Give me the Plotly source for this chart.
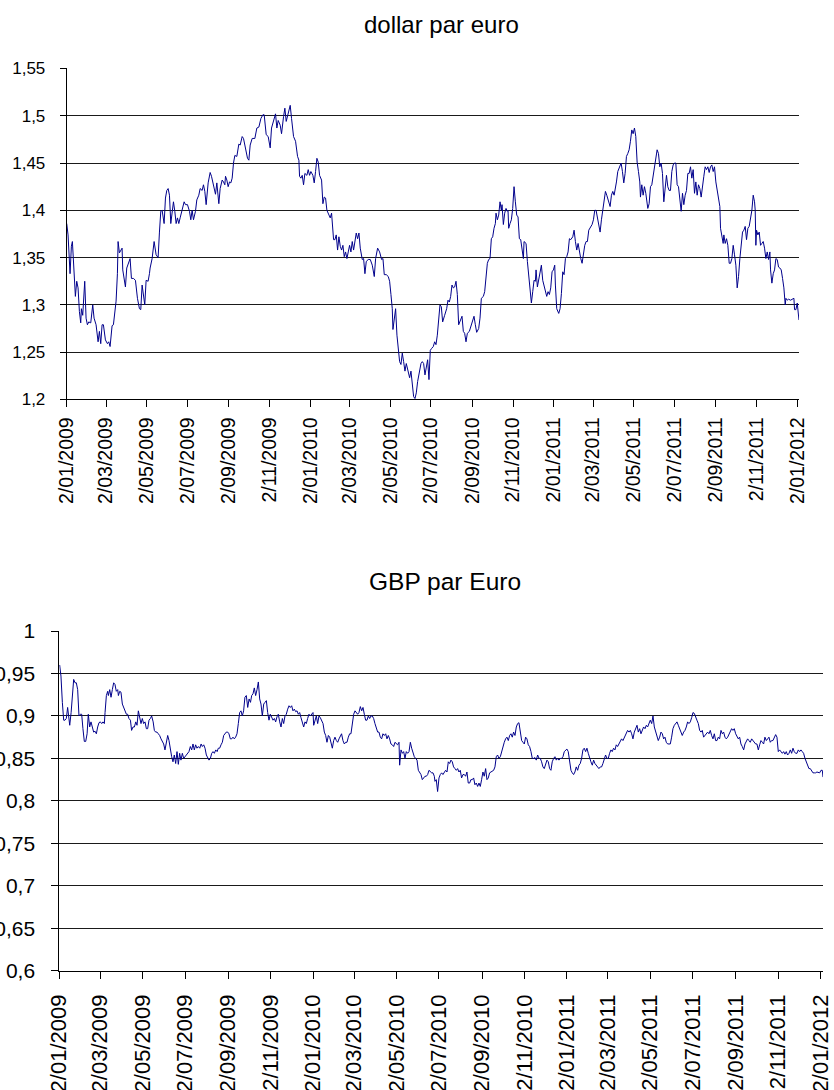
import pandas as pd
import plotly.graph_objects as go

START = pd.Timestamp("2009-01-02")

# ---------------- data: dollar par euro (days since 2 Jan 2009, value) ----------------
usd_days = [0, 2, 5, 7, 8.5, 10, 13, 15, 17, 19, 21, 22, 24, 27, 29, 31, 33, 36, 39, 41, 44, 47, 49, 51, 53, 55, 58,
            61, 63, 65, 68, 70, 72, 74, 76, 77, 79, 81, 83, 84, 86, 88, 90, 93, 95, 97, 100, 103, 106, 109, 111, 113,
            115, 117, 119, 122, 124, 125, 128, 131, 134, 137, 139, 141, 143, 146, 148, 150, 152, 154, 156, 158, 160,
            162, 164, 166, 168, 170, 173, 176, 178, 181, 184, 186, 188, 190, 193, 195, 198, 200, 203, 205, 207, 209,
            212, 215, 217, 220, 223, 225, 228, 230, 233, 235, 237, 238, 240, 242, 244, 246, 248, 250, 252, 255, 258,
            260, 263, 265, 268, 271, 273, 275, 278, 282, 285, 288, 291, 294, 296, 299, 302, 305, 307, 310, 313, 315,
            317, 320, 322, 325, 327, 329, 332, 335, 337, 340, 343, 346, 348, 349, 351, 353, 355, 357, 360, 362, 364,
            366, 369, 371, 373, 375, 377, 379, 382, 384, 386, 388, 390, 393, 395, 397, 398, 400, 402, 404, 406, 408,
            410, 412, 414, 416, 418, 420, 422, 424, 426, 428, 430, 432, 434, 436, 438, 440, 443, 445, 447, 449, 452,
            455, 458, 461, 463, 466, 469, 472, 474, 476, 479, 482, 484, 486, 488, 489, 491, 493, 495, 497, 499, 501,
            503, 505, 507, 509, 512, 514, 516, 518, 520, 522, 524, 526, 529, 531, 533, 535, 537, 539, 541, 543, 545,
            547, 549.5, 551.5, 553.5, 555.5, 557.5, 559.5, 561.5, 563.5, 566.5, 569.5, 571.5, 573.5, 575.5, 577.5,
            579.5, 581.5, 583.5, 585.5, 587.5, 589.5, 592.5, 594.5, 596.5, 598.5, 600.5, 603.5, 606.5, 608.5, 610.5,
            612.5, 614.5, 617.5, 619.5, 621.5, 624.5, 626.5, 628.5, 630.5, 632.5, 634.5, 636.5, 638.5, 640.5, 642.5,
            643.5, 645.5, 647.5, 649.5, 651.5, 652.5, 654.5, 656.5, 658.5, 660.5, 661.5, 662.5, 664.5, 666.5, 668.5,
            670.5, 672.5, 674.5, 676.5, 678.5, 680.5, 682.5, 684.5, 685.5, 688.5, 690.5, 692.5, 694.5, 696.5, 698.5,
            700.5, 702.5, 703.5, 705.5, 707.5, 709.5, 711.5, 713.5, 715.5, 717.5, 719.5, 721.5, 723.5, 725.5, 727.5,
            729.5, 731.5, 732.5, 734.5, 737.5, 739.5, 741.5, 743.5, 745.5, 747.5, 749.5, 751.5, 753.5, 755.5, 758.5,
            760.5, 762.5, 764.5, 766.5, 768.5, 770.5, 772.5, 774.5, 776.5, 778.5, 780.5, 782.5, 784.5, 787.5, 789.5,
            791.5, 793.5, 795.5, 797.5, 799.5, 801.5, 803.5, 805.5, 807.5, 809.5, 812.5, 814.5, 816.5, 818.5, 820.5,
            822.5, 824, 826, 829, 831, 833, 835, 837, 839, 841, 843, 845, 847, 849, 851, 853, 855, 857, 859, 860,
            862, 864, 866, 868, 871, 873, 875, 877, 879, 881, 883, 885, 887, 889, 891, 893, 895, 897, 899, 901, 903,
            905, 907, 909, 911, 913, 915, 917, 919, 921, 923, 925, 927, 929, 931, 933, 935, 937, 939, 941, 943, 945,
            947, 949, 951, 953, 955, 957, 959, 961, 963, 965, 967, 969, 971, 973, 975, 977, 979, 980, 982, 984, 985,
            987, 989, 991, 993, 995, 997, 999, 1001, 1003, 1005, 1007, 1009, 1011, 1013, 1015, 1017, 1019, 1021,
            1023, 1025, 1027, 1029, 1031, 1032, 1033, 1034, 1036, 1038, 1040, 1042, 1044, 1046, 1048, 1050, 1052,
            1054, 1055, 1057, 1059, 1061, 1063, 1065, 1067, 1069, 1071, 1073, 1075, 1077, 1078, 1080, 1082, 1085,
            1087, 1090, 1091, 1093, 1095, 1096, 1097, 1097.6]
usd_values = [1.386, 1.374, 1.333, 1.362, 1.367, 1.346, 1.309, 1.325, 1.318, 1.293, 1.281, 1.296, 1.289, 1.325, 1.286,
              1.279, 1.282, 1.281, 1.300, 1.286, 1.279, 1.261, 1.272, 1.259, 1.279, 1.279, 1.263, 1.259, 1.261, 1.256,
              1.278, 1.279, 1.296, 1.304, 1.333, 1.367, 1.355, 1.357, 1.360, 1.337, 1.325, 1.319, 1.339, 1.346, 1.349,
              1.328, 1.328, 1.326, 1.307, 1.296, 1.295, 1.321, 1.311, 1.300, 1.326, 1.325, 1.333, 1.339, 1.349, 1.367,
              1.353, 1.350, 1.377, 1.399, 1.400, 1.386, 1.413, 1.421, 1.423, 1.416, 1.386, 1.402, 1.409, 1.399, 1.386,
              1.392, 1.386, 1.392, 1.402, 1.409, 1.406, 1.406, 1.399, 1.390, 1.400, 1.390, 1.399, 1.411, 1.416, 1.423,
              1.421, 1.427, 1.420, 1.406, 1.429, 1.440, 1.436, 1.425, 1.417, 1.429, 1.407, 1.423, 1.432, 1.430, 1.427,
              1.436, 1.432, 1.425, 1.430, 1.429, 1.434, 1.450, 1.458, 1.457, 1.470, 1.469, 1.478, 1.476, 1.465, 1.455,
              1.453, 1.469, 1.476, 1.476, 1.487, 1.488, 1.497, 1.501, 1.501, 1.480, 1.478, 1.466, 1.487, 1.495, 1.502,
              1.487, 1.495, 1.490, 1.481, 1.499, 1.508, 1.494, 1.504, 1.511, 1.497, 1.478, 1.473, 1.457, 1.453, 1.436,
              1.434, 1.437, 1.427, 1.439, 1.437, 1.443, 1.437, 1.441, 1.437, 1.429, 1.441, 1.455, 1.451, 1.437, 1.432,
              1.407, 1.414, 1.413, 1.400, 1.395, 1.392, 1.397, 1.385, 1.369, 1.369, 1.374, 1.358, 1.372, 1.362, 1.358,
              1.363, 1.351, 1.356, 1.349, 1.356, 1.363, 1.356, 1.367, 1.358, 1.367, 1.376, 1.370, 1.376, 1.360, 1.348,
              1.349, 1.333, 1.346, 1.348, 1.348, 1.342, 1.330, 1.349, 1.360, 1.356, 1.348, 1.349, 1.332, 1.332, 1.330,
              1.325, 1.311, 1.296, 1.274, 1.286, 1.296, 1.268, 1.249, 1.240, 1.237, 1.249, 1.240, 1.230, 1.238, 1.230,
              1.223, 1.230, 1.215, 1.203, 1.201, 1.207, 1.219, 1.231, 1.238, 1.240, 1.238, 1.226, 1.233, 1.242, 1.221,
              1.252, 1.254, 1.256, 1.261, 1.258, 1.268, 1.282, 1.300, 1.298, 1.282, 1.289, 1.296, 1.305, 1.303, 1.309,
              1.321, 1.318, 1.319, 1.325, 1.311, 1.279, 1.282, 1.288, 1.272, 1.270, 1.261, 1.270, 1.272, 1.279, 1.284,
              1.288, 1.279, 1.271, 1.275, 1.286, 1.307, 1.309, 1.314, 1.333, 1.344, 1.348, 1.349, 1.370, 1.372, 1.381,
              1.386, 1.397, 1.390, 1.395, 1.409, 1.400, 1.406, 1.385, 1.397, 1.402, 1.399, 1.400, 1.381, 1.386, 1.390,
              1.402, 1.425, 1.409, 1.395, 1.393, 1.370, 1.369, 1.360, 1.349, 1.367, 1.365, 1.346, 1.333, 1.321, 1.302,
              1.314, 1.326, 1.325, 1.337, 1.319, 1.326, 1.332, 1.342, 1.326, 1.319, 1.314, 1.309, 1.314, 1.311, 1.318,
              1.335, 1.337, 1.342, 1.321, 1.296, 1.291, 1.296, 1.312, 1.335, 1.332, 1.349, 1.351, 1.356, 1.370, 1.369,
              1.372, 1.379, 1.367, 1.358, 1.365, 1.356, 1.349, 1.344, 1.356, 1.363, 1.367, 1.367, 1.379, 1.381, 1.385,
              1.390, 1.400, 1.400, 1.392, 1.383, 1.377, 1.390, 1.399, 1.413, 1.420, 1.416, 1.409, 1.404, 1.416, 1.420,
              1.416, 1.423, 1.430, 1.441, 1.446, 1.450, 1.441, 1.429, 1.439, 1.457, 1.460, 1.464, 1.473, 1.485, 1.481,
              1.487, 1.478, 1.451, 1.441, 1.430, 1.414, 1.427, 1.416, 1.425, 1.418, 1.402, 1.407, 1.425, 1.427, 1.437,
              1.448, 1.457, 1.464, 1.460, 1.446, 1.450, 1.439, 1.409, 1.427, 1.437, 1.425, 1.421, 1.421, 1.441, 1.448,
              1.450, 1.450, 1.427, 1.425, 1.409, 1.399, 1.418, 1.406, 1.416, 1.421, 1.439, 1.439, 1.446, 1.434, 1.443,
              1.418, 1.430, 1.416, 1.427, 1.423, 1.414, 1.429, 1.436, 1.446, 1.443, 1.446, 1.440, 1.446, 1.448, 1.441,
              1.446, 1.430, 1.420, 1.413, 1.404, 1.381, 1.370, 1.365, 1.374, 1.365, 1.370, 1.363, 1.344, 1.344, 1.349,
              1.363, 1.353, 1.342, 1.318, 1.330, 1.349, 1.360, 1.377, 1.379, 1.383, 1.369, 1.381, 1.383, 1.392, 1.400,
              1.416, 1.409, 1.400, 1.363, 1.379, 1.374, 1.377, 1.363, 1.365, 1.367, 1.360, 1.349, 1.356, 1.348, 1.356,
              1.337, 1.323, 1.333, 1.337, 1.349, 1.348, 1.340, 1.339, 1.337, 1.328, 1.318, 1.300, 1.307, 1.305, 1.306,
              1.305, 1.306, 1.307, 1.295, 1.295, 1.302, 1.296, 1.291, 1.284]

# ---------------- data: GBP par Euro (days since 2 Jan 2009, value) ----------------
gbp_days = [0.5, 2.4, 4.4, 6.3, 8.2, 10.1, 12, 14, 15, 17, 18.7, 20.7, 22.6, 24.5, 26.4, 28.3, 30.3, 32.2, 34, 36, 38,
            40, 41.7, 43.7, 45.6, 47.5, 49.4, 51.4, 53.3, 55.2, 57.1, 59, 61, 62.9, 64.8, 65.8, 67.7, 69.6, 70.6, 72.5,
            74.4, 76.3, 78.2, 80.1, 82, 84, 85, 86.9, 88.7, 90.7, 92.6, 94.5, 96.5, 98.3, 100.2, 102.3, 104, 106, 108,
            110, 111.8, 113.7, 115.6, 117.5, 119.4, 121.3, 123.3, 125.2, 127.1, 129, 131, 132.8, 135, 136.7, 138.6,
            140.5, 142.4, 144.3, 146.3, 148.2, 150.1, 152, 154, 155.9, 157.8, 159.7, 161.6, 163.5, 165.4, 167.4, 169.3,
            171.2, 173.1, 175, 177, 178.9, 180.8, 182.7, 184.6, 186.5, 188.5, 190.4, 192.3, 194.2, 196.1, 198, 200,
            202, 204, 205.7, 207.7, 209.6, 211.5, 213.5, 215.3, 217.3, 219.2, 221.1, 223, 225, 227, 228.7, 230.6,
            232.6, 234.5, 236.4, 238.3, 240.2, 242.2, 244, 246, 247.9, 249.8, 251.7, 253.6, 255.6, 257.5, 259.4,
            261.3, 263.2, 265.1, 267, 269, 271, 273, 275, 276.7, 278.6, 280.5, 282.4, 284.4, 286.3, 288.2, 290.1,
            292, 294, 295.9, 297.8, 299.7, 301.6, 303.5, 305.4, 307.4, 309.3, 311.2, 313.1, 315, 317, 318.9, 320.8,
            322.7, 324.6, 326.5, 328.5, 330.4, 332.3, 334.2, 336.1, 338, 340, 341.9, 343.8, 345.7, 347.6, 349.6,
            351.5, 353.4, 355.3, 357.2, 359.1, 361, 363, 364.9, 365.9, 367.8, 369.7, 371.6, 373.5, 375.4, 377.4,
            379.3, 381.2, 383.1, 385, 387, 388.9, 390.8, 392.7, 394.6, 396.5, 398.5, 400.4, 402.3, 404.2, 406, 408,
            410, 411.9, 413.8, 415.7, 417.6, 419.5, 421.5, 423.4, 425.3, 427.2, 429.1, 431, 433, 434.9, 436.8, 438.7,
            440.6, 442.5, 444.5, 446.4, 448.3, 450.2, 452.1, 454, 456, 457.9, 459.8, 461.7, 463.6, 465.5, 467.5,
            469.4, 471.3, 473.2, 475.1, 477, 479, 480.9, 482.8, 484.7, 486.6, 488.6, 489.5, 491.5, 493.4, 495.3,
            497.2, 499.1, 501, 503, 504.9, 506.8, 508.7, 510.6, 512.5, 514.5, 516.4, 518.3, 520.2, 522.1, 524, 526,
            527.9, 529.8, 531.7, 533.6, 535.6, 537.5, 539.4, 540.3, 542.2, 544.1, 546.1, 548, 549.9, 551.8, 553.7,
            555.6, 557.6, 559.5, 561.4, 563.3, 565.2, 567.1, 569.1, 571, 572.9, 574.8, 576.7, 578.6, 580.6, 582.5,
            584.4, 586.3, 588.2, 590.2, 592, 594, 595.9, 597.8, 599.7, 601.7, 603.6, 605.5, 607.4, 609.3, 611.2,
            613.2, 615.1, 617, 618.9, 620.8, 622.8, 624.7, 626.6, 628.5, 630.4, 632.3, 634.3, 636.2, 638.1, 640,
            641.9, 643.8, 645.8, 647.7, 649.6, 651.5, 653.4, 655.4, 657.3, 659.2, 661.1, 663, 665, 666.9, 668.8,
            670.7, 672.6, 674.5, 676.4, 678.4, 680.3, 682.2, 684.1, 686, 688, 690, 691.8, 693.7, 695.6, 697.5, 699.5,
            701.4, 703.3, 705.2, 707.1, 709, 711, 712.9, 714.8, 716.7, 718.6, 720.5, 722.5, 724.4, 726.3, 728.2,
            730.1, 732, 734, 735.9, 737.8, 739.7, 741.6, 743.5, 745.5, 747.4, 749.3, 751.2, 753.1, 755, 757, 758.9,
            760.8, 762.7, 764.6, 766.6, 768.5, 770.4, 772.3, 774.2, 776.1, 778.1, 780, 781.9, 783.8, 785.7, 787.7,
            789.6, 791.5, 793.4, 795.3, 797.2, 799.2, 801.1, 803, 804.9, 806.8, 808.7, 810.7, 812.6, 813.6, 815.5,
            817.4, 819.4, 821.3, 823.2, 825.1, 827, 829, 830.9, 832.8, 834.7, 836.6, 838.5, 840.4, 842.4, 844.3,
            846.2, 848.1, 850, 852, 853.9, 855.8, 857.7, 859.6, 861.5, 863.5, 865.4, 867.3, 869.2, 871.1, 873, 875,
            876.9, 878.8, 880.7, 882.6, 884.6, 886.5, 888.4, 890.3, 892.2, 894.1, 896, 898, 899.9, 901.8, 903.7,
            905.6, 907.6, 909.5, 911.4, 913.3, 915.2, 917.1, 919.1, 921, 922.9, 924.8, 926.7, 928.7, 930.6, 932.5,
            934.4, 936.3, 938.2, 940.2, 942.1, 944, 945.9, 947.8, 949.7, 951.7, 953.6, 955.5, 957.4, 959.3, 961.3,
            963.2, 965.1, 967, 968.9, 970.8, 972.8, 974.7, 976.6, 978.5, 980.4, 982.3, 984.3, 986.2, 988.1, 990,
            991.9, 993.8, 995.8, 997.7, 999.6, 1001.5, 1003.4, 1005.4, 1007.3, 1009.2, 1011.1, 1013, 1014.9, 1016.9,
            1018.8, 1020.7, 1022.6, 1024.5, 1026.4, 1028.4, 1030.3, 1032.2, 1034.1, 1036, 1038, 1039.9, 1041.8,
            1043.7, 1045.6, 1047.5, 1049.5, 1051.4, 1053.3, 1055.2, 1057.1, 1059, 1061, 1062.9, 1064.8, 1066.7,
            1068.6, 1070.5, 1072.5, 1074.4, 1076.3, 1078.2, 1080.1, 1082, 1084, 1085.9, 1087.8, 1089.7, 1091.6,
            1093.6, 1095.5, 1097.4, 1098.4]
gbp_values = [0.960, 0.947, 0.916, 0.895, 0.895, 0.897, 0.910, 0.893, 0.889, 0.904, 0.924, 0.943, 0.939, 0.939, 0.931,
              0.900, 0.902, 0.902, 0.885, 0.870, 0.870, 0.879, 0.902, 0.887, 0.893, 0.887, 0.881, 0.882, 0.879, 0.887,
              0.892, 0.893, 0.891, 0.893, 0.891, 0.904, 0.924, 0.929, 0.924, 0.931, 0.922, 0.931, 0.939, 0.937, 0.929,
              0.931, 0.924, 0.929, 0.928, 0.914, 0.910, 0.906, 0.902, 0.902, 0.897, 0.895, 0.883, 0.887, 0.887, 0.893,
              0.889, 0.906, 0.900, 0.891, 0.897, 0.891, 0.893, 0.885, 0.885, 0.895, 0.897, 0.900, 0.893, 0.883, 0.881,
              0.881, 0.879, 0.877, 0.873, 0.869, 0.867, 0.860, 0.871, 0.877, 0.871, 0.860, 0.852, 0.846, 0.854, 0.844,
              0.858, 0.843, 0.856, 0.848, 0.856, 0.850, 0.852, 0.855, 0.856, 0.858, 0.864, 0.860, 0.867, 0.860, 0.866,
              0.862, 0.864, 0.862, 0.867, 0.864, 0.866, 0.862, 0.854, 0.850, 0.848, 0.850, 0.856, 0.858, 0.856, 0.860,
              0.858, 0.862, 0.862, 0.866, 0.869, 0.877, 0.879, 0.881, 0.881, 0.879, 0.873, 0.873, 0.875, 0.873, 0.875,
              0.879, 0.891, 0.904, 0.906, 0.900, 0.906, 0.922, 0.924, 0.910, 0.920, 0.916, 0.924, 0.926, 0.933, 0.924,
              0.931, 0.940, 0.920, 0.914, 0.900, 0.914, 0.916, 0.918, 0.904, 0.895, 0.902, 0.899, 0.895, 0.897, 0.893,
              0.899, 0.902, 0.893, 0.887, 0.897, 0.891, 0.900, 0.902, 0.908, 0.912, 0.910, 0.912, 0.906, 0.908, 0.905,
              0.906, 0.902, 0.904, 0.898, 0.893, 0.887, 0.893, 0.891, 0.897, 0.902, 0.900, 0.902, 0.904, 0.889, 0.895,
              0.900, 0.891, 0.900, 0.898, 0.895, 0.891, 0.881, 0.877, 0.869, 0.877, 0.875, 0.867, 0.862, 0.871, 0.875,
              0.871, 0.869, 0.873, 0.877, 0.879, 0.871, 0.867, 0.869, 0.869, 0.875, 0.879, 0.879, 0.891, 0.902, 0.906,
              0.904, 0.902, 0.904, 0.911, 0.906, 0.910, 0.902, 0.895, 0.895, 0.900, 0.897, 0.900, 0.900, 0.897, 0.891,
              0.885, 0.881, 0.881, 0.875, 0.873, 0.879, 0.877, 0.879, 0.873, 0.877, 0.873, 0.867, 0.866, 0.864, 0.869,
              0.867, 0.866, 0.869, 0.842, 0.860, 0.856, 0.858, 0.850, 0.858, 0.856, 0.858, 0.869, 0.862, 0.856, 0.852,
              0.850, 0.848, 0.836, 0.833, 0.831, 0.825, 0.827, 0.829, 0.829, 0.831, 0.836, 0.834, 0.833, 0.833, 0.829,
              0.823, 0.825, 0.811, 0.827, 0.831, 0.833, 0.831, 0.834, 0.836, 0.834, 0.846, 0.844, 0.848, 0.846, 0.840,
              0.838, 0.836, 0.838, 0.834, 0.836, 0.827, 0.831, 0.831, 0.829, 0.834, 0.821, 0.821, 0.825, 0.825, 0.827,
              0.819, 0.821, 0.817, 0.821, 0.817, 0.825, 0.834, 0.829, 0.838, 0.825, 0.827, 0.833, 0.834, 0.836, 0.836,
              0.840, 0.852, 0.854, 0.850, 0.852, 0.858, 0.866, 0.869, 0.873, 0.875, 0.871, 0.877, 0.879, 0.875, 0.881,
              0.877, 0.887, 0.891, 0.892, 0.879, 0.871, 0.869, 0.867, 0.875, 0.873, 0.866, 0.864, 0.858, 0.850, 0.850,
              0.851, 0.848, 0.854, 0.850, 0.850, 0.846, 0.840, 0.838, 0.844, 0.848, 0.846, 0.838, 0.836, 0.846, 0.850,
              0.852, 0.848, 0.850, 0.848, 0.850, 0.850, 0.852, 0.858, 0.860, 0.861, 0.858, 0.846, 0.836, 0.833, 0.831,
              0.834, 0.840, 0.836, 0.842, 0.844, 0.850, 0.860, 0.862, 0.858, 0.862, 0.856, 0.850, 0.846, 0.842, 0.848,
              0.844, 0.842, 0.840, 0.838, 0.840, 0.840, 0.844, 0.850, 0.854, 0.850, 0.850, 0.856, 0.860, 0.858, 0.862,
              0.860, 0.866, 0.864, 0.867, 0.869, 0.873, 0.871, 0.875, 0.877, 0.879, 0.883, 0.881, 0.883, 0.879, 0.873,
              0.881, 0.885, 0.889, 0.881, 0.885, 0.879, 0.883, 0.887, 0.885, 0.889, 0.887, 0.891, 0.895, 0.891, 0.900,
              0.887, 0.881, 0.877, 0.871, 0.875, 0.881, 0.879, 0.873, 0.875, 0.869, 0.867, 0.867, 0.867, 0.875, 0.885,
              0.889, 0.891, 0.893, 0.889, 0.885, 0.879, 0.877, 0.881, 0.883, 0.887, 0.893, 0.891, 0.893, 0.898, 0.904,
              0.903, 0.898, 0.895, 0.891, 0.883, 0.881, 0.883, 0.875, 0.877, 0.879, 0.881, 0.879, 0.883, 0.877, 0.873,
              0.879, 0.871, 0.871, 0.875, 0.873, 0.883, 0.879, 0.881, 0.875, 0.873, 0.875, 0.879, 0.883, 0.885, 0.883,
              0.885, 0.879, 0.875, 0.873, 0.875, 0.867, 0.864, 0.860, 0.867, 0.871, 0.873, 0.871, 0.869, 0.873, 0.871,
              0.870, 0.867, 0.867, 0.860, 0.866, 0.871, 0.869, 0.867, 0.875, 0.871, 0.873, 0.875, 0.869, 0.871, 0.871,
              0.875, 0.878, 0.875, 0.858, 0.860, 0.858, 0.856, 0.858, 0.855, 0.858, 0.854, 0.856, 0.860, 0.856, 0.862,
              0.858, 0.856, 0.856, 0.860, 0.858, 0.860, 0.858, 0.856, 0.850, 0.846, 0.840, 0.838, 0.838, 0.836, 0.833,
              0.833, 0.833, 0.834, 0.833, 0.833, 0.836, 0.836, 0.828]

# ---------------- axis ticks ----------------
date_ticks = ["2009-01-02", "2009-03-02", "2009-05-02", "2009-07-02", "2009-09-02", "2009-11-02",
              "2010-01-02", "2010-03-02", "2010-05-02", "2010-07-02", "2010-09-02", "2010-11-02",
              "2011-01-02", "2011-03-02", "2011-05-02", "2011-07-02", "2011-09-02", "2011-11-02",
              "2012-01-02"]
date_labels = ["2/01/2009", "2/03/2009", "2/05/2009", "2/07/2009", "2/09/2009", "2/11/2009",
               "2/01/2010", "2/03/2010", "2/05/2010", "2/07/2010", "2/09/2010", "2/11/2010",
               "2/01/2011", "2/03/2011", "2/05/2011", "2/07/2011", "2/09/2011", "2/11/2011",
               "2/01/2012"]
usd_ticks = [1.2, 1.25, 1.3, 1.35, 1.4, 1.45, 1.5, 1.55]
usd_tick_labels = ["1,2", "1,25", "1,3", "1,35", "1,4", "1,45", "1,5", "1,55"]
gbp_ticks = [0.6, 0.65, 0.7, 0.75, 0.8, 0.85, 0.9, 0.95, 1.0]
gbp_tick_labels = ["0,6", "0,65", "0,7", "0,75", "0,8", "0,85", "0,9", "0,95", "1"]

usd_title = "dollar par euro"
gbp_title = "GBP par Euro"

usd_dates = [START + pd.Timedelta(days=d) for d in usd_days]
gbp_dates = [START + pd.Timedelta(days=d) for d in gbp_days]

LINE = "#00008B"
FONT = "Liberation Sans, Arial, sans-serif"

fig = go.Figure()
fig.add_trace(go.Scatter(x=usd_dates, y=usd_values, mode="lines",
                         line=dict(color=LINE, width=1), xaxis="x", yaxis="y",
                         showlegend=False, hoverinfo="x+y"))
fig.add_trace(go.Scatter(x=gbp_dates, y=gbp_values, mode="lines",
                         line=dict(color=LINE, width=1), xaxis="x2", yaxis="y2",
                         showlegend=False, hoverinfo="x+y"))

common_x = dict(type="date", tickvals=date_ticks, ticktext=date_labels, tickangle=-90,
                ticks="outside", tickcolor="black", tickwidth=1, showline=True,
                linecolor="black", linewidth=1, showgrid=False, zeroline=False,
                automargin=False, fixedrange=True)
common_y = dict(ticks="outside", tickcolor="black", tickwidth=1, showline=True,
                linecolor="black", linewidth=1, showgrid=True, gridcolor="#1a1a1a",
                gridwidth=1, zeroline=False, automargin=False, fixedrange=True)

fig.update_layout(
    template="none",
    width=834, height=1090,
    margin=dict(l=0, r=0, t=0, b=0),
    paper_bgcolor="white", plot_bgcolor="white",
    showlegend=False,
    xaxis=dict(**common_x, domain=[0.0800, 0.9580], anchor="y",
               range=[START, START + pd.Timedelta(days=1097.6)],
               ticklen=7, ticklabelstandoff=2,
               tickfont=dict(family=FONT, size=19.5, color="black")),
    yaxis=dict(**common_y, domain=[0.6335, 0.9372], anchor="x",
               range=[1.2, 1.55], tickvals=usd_ticks, ticktext=usd_tick_labels,
               ticklen=6, ticklabelstandoff=11,
               tickfont=dict(family=FONT, size=17, color="black")),
    xaxis2=dict(**common_x, domain=[0.0711, 0.9868], anchor="y2",
                range=[START, START + pd.Timedelta(days=1098.4)],
                ticklen=7, ticklabelstandoff=7,
                tickfont=dict(family=FONT, size=22, color="black")),
    yaxis2=dict(**common_y, domain=[0.1094, 0.4211], anchor="x2",
                range=[0.6, 1.0], tickvals=gbp_ticks, ticktext=gbp_tick_labels,
                ticklen=7, ticklabelstandoff=12,
                tickfont=dict(family=FONT, size=21, color="black")),
    annotations=[
        dict(text=usd_title, x=441.5 / 834, y=1 - 24 / 1090, xref="paper", yref="paper",
             xanchor="center", yanchor="middle", showarrow=False,
             font=dict(family=FONT, size=24, color="black")),
        dict(text=gbp_title, x=445 / 834, y=1 - 581 / 1090, xref="paper", yref="paper",
             xanchor="center", yanchor="middle", showarrow=False,
             font=dict(family=FONT, size=24.5, color="black")),
    ],
)

fig.write_html("out.html", config={"displayModeBar": False},
               post_script="document.body.style.margin='0';document.body.style.overflow='hidden';")
